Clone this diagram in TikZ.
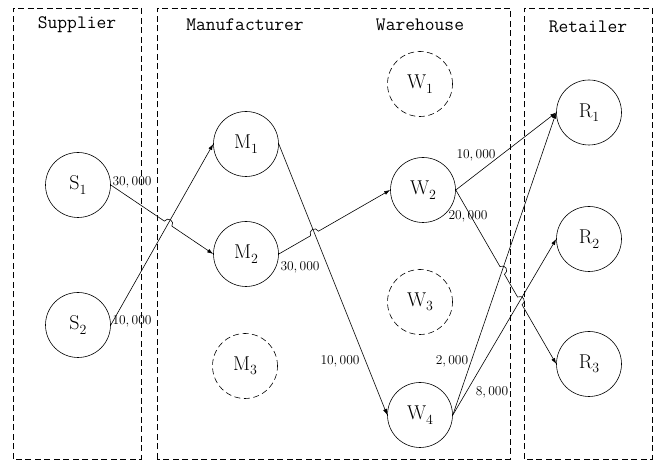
\documentclass[tikz,border=0pt]{standalone}
\usetikzlibrary{arrows.meta,calc,intersections}
\newcommand{\lab}[2]{#1\raisebox{-0.22em}{\fontsize{14}{14}\selectfont #2}}
\begin{document}
\begin{tikzpicture}[x=1pt,y=1pt,
  box/.style={draw, line width=0.6pt, dash pattern=on 6pt off 3.5pt},
  nd/.style={circle, draw, line width=0.6pt, minimum size=65pt, inner sep=0pt, font=\fontsize{20}{22}\selectfont},
  ndd/.style={nd, dash pattern=on 6pt off 3.5pt},
  title/.style={font=\fontsize{19}{22}\selectfont\ttfamily},
  qty/.style={font=\fontsize{13.5}{16}\selectfont, inner sep=0pt},
  conn/.style={-{Latex[length=6pt,width=4pt]}, line width=0.6pt},
  hop/.style={bend left=90, looseness=1.7}]
\useasboundingbox (0,0) rectangle (656,462);
% boxes
\draw[box] (13,3) rectangle (141,454);
\draw[box] (157,3) rectangle (510,454);
\draw[box] (524,3) rectangle (652,454);
% titles
\node[title] (tS) at (77,437) {Supplier};
\node[title] (tM) at (245,437) {Manufacturer};
\node[title] (tW) at (420,437) {Warehouse};
\node[title] (tR) at (588,435) {Retailer};
% nodes
\node[nd] (S1) at (78,277) {\lab{S}{1}};
\node[nd] (S2) at (78,137) {\lab{S}{2}};
\node[nd] (M1) at (246,318) {\lab{M}{1}};
\node[nd] (M2) at (246,208) {\lab{M}{2}};
\node[ndd] (M3) at (245,96) {\lab{M}{3}};
\node[ndd] (W1) at (420,378) {\lab{W}{1}};
\node[nd] (W2) at (423,272) {\lab{W}{2}};
\node[ndd] (W3) at (420,160) {\lab{W}{3}};
\node[nd] (W4) at (420,47) {\lab{W}{4}};
\node[nd] (R1) at (589,349.5) {\lab{R}{1}};
\node[nd] (R2) at (589,223) {\lab{R}{2}};
\node[nd] (R3) at (589,98) {\lab{R}{3}};
% crossing helpers
\path[name path=s2m1] (S2.east) -- (M1.west);
\path[name path=s1m2] (S1.east) -- (M2.west);
\path[name path=m1w4] (M1.east) -- (W4.west);
\path[name path=m2w2] (M2.east) -- (W2.west);
\path[name path=w4r1] (W4.east) -- (R1.west);
\path[name path=w4r2] (W4.east) -- (R2.west);
\path[name path=w2r3] (W2.east) -- (R3.west);
\path[name intersections={of=s2m1 and s1m2, by={X1}}];
\path[name intersections={of=m1w4 and m2w2, by={X2}}];
\path[name intersections={of=w4r1 and w2r3, by={X3}}];
\path[name intersections={of=w4r2 and w2r3, by={X4}}];
% connectors
\draw[conn] (S2.east) -- (M1.west);
\draw[conn] (S1.east) -- ($(X1)!4.5pt!(S1.east)$) to[hop] ($(X1)!4.5pt!(M2.west)$) -- (M2.west);
\draw[conn] (M1.east) -- (W4.west);
\draw[conn] (M2.east) -- ($(X2)!4.5pt!(M2.east)$) to[hop] ($(X2)!4.5pt!(W2.west)$) -- (W2.west);
\draw[conn] (W2.east) -- (R1.west);
\draw[conn] (W4.east) -- (R1.west);
\draw[conn] (W4.east) -- (R2.west);
\draw[conn] (W2.east) -- ($(X3)!4.5pt!(W2.east)$) to[hop] ($(X3)!4.5pt!(R3.west)$)
  -- ($(X4)!4.5pt!(W2.east)$) to[hop] ($(X4)!4.5pt!(R3.west)$) -- (R3.west);
% quantities
\node[qty] (q1) at (132,280) {30,\,000};
\node[qty] (q2) at (132,141) {10,\,000};
\node[qty] (q3) at (300,195) {30,\,000};
\node[qty] (q4) at (340,101) {10,\,000};
\node[qty] (q5) at (452,101) {2,\,000};
\node[qty] (q6) at (492,70) {8,\,000};
\node[qty] (q7) at (476,307) {10,\,000};
\node[qty] (q8) at (468,246) {20,\,000};
\end{tikzpicture}
\end{document}
